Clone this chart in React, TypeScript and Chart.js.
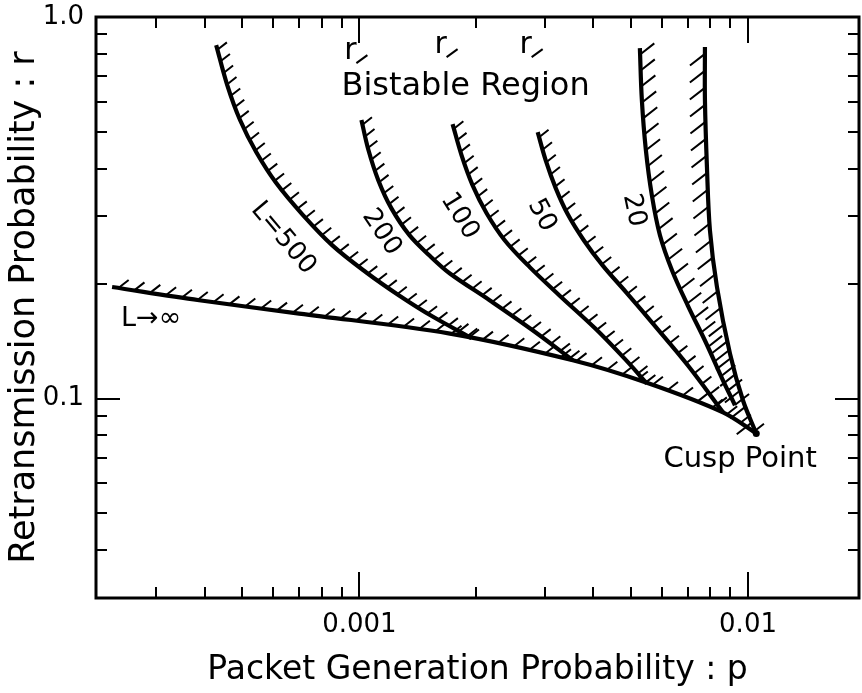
import React, { useEffect, useRef } from 'react';
import { Chart, registerables } from 'chart.js';

Chart.register(...registerables);

// ---------------- data ----------------
// packet generation probability p (x) and retransmission probability r (y)
const P_INF = [0.000231, 0.000387, 0.0007, 0.00171, 0.00354, 0.00549, 0.00862, 0.0105];
const R_INF = [0.196, 0.181, 0.167, 0.148, 0.126, 0.110, 0.092, 0.081];

const P_500 = [0.000428, 0.000457, 0.000493, 0.000543, 0.000611, 0.000713, 0.000852, 0.001042, 0.001268, 0.001543, 0.001944];
const R_500 = [0.844, 0.663, 0.537, 0.442, 0.367, 0.304, 0.252, 0.214, 0.186, 0.164, 0.144];

const P_200 = [0.001012, 0.001055, 0.001119, 0.001209, 0.001345, 0.001515, 0.001706, 0.002163, 0.002792, 0.00354];
const R_200 = [0.537, 0.448, 0.373, 0.315, 0.268, 0.237, 0.213, 0.181, 0.151, 0.126];

const P_100 = [0.001737, 0.001832, 0.001956, 0.002125, 0.002365, 0.002743, 0.003277, 0.004034, 0.00482, 0.005492];
const R_100 = [0.524, 0.434, 0.362, 0.306, 0.260, 0.221, 0.186, 0.153, 0.127, 0.1095];

const P_50 = [0.002876, 0.003016, 0.0032, 0.003437, 0.003779, 0.00423, 0.004877, 0.005758, 0.007005, 0.008623];
const R_50 = [0.499, 0.421, 0.356, 0.304, 0.260, 0.223, 0.189, 0.155, 0.122, 0.092];

const P_20 = [0.005269, 0.005331, 0.005459, 0.005656, 0.005934, 0.006372, 0.007005, 0.007795, 0.008572, 0.009257];
const R_20 = [0.829, 0.606, 0.448, 0.341, 0.268, 0.217, 0.175, 0.140, 0.113, 0.096];

const P_UPPER = [0.007747, 0.007747, 0.00784, 0.00798, 0.008319, 0.008987, 0.009707, 0.0105];
const R_UPPER = [0.834, 0.606, 0.404, 0.276, 0.196, 0.131, 0.0988, 0.081];

const SERIES_NAMES = ['L→∞', 'L=500', '200', '100', '50', '20', 'upper'];
const SERIES_P = [P_INF, P_500, P_200, P_100, P_50, P_20, P_UPPER];
const SERIES_R = [R_INF, R_500, R_200, R_100, R_50, R_20, R_UPPER];

// axis ticks
const X_MIN = 0.00021;
const X_MAX = 0.0193;
const Y_MIN = 0.03;
const Y_MAX = 1.0;
const X_TICKS = [0.0003, 0.0004, 0.0005, 0.0006, 0.0007, 0.0008, 0.0009, 0.001, 0.002, 0.003, 0.004, 0.005, 0.006, 0.007, 0.008, 0.009, 0.01];
const X_MAJOR = [0.001, 0.01];
const X_LABELS = ['0.001', '0.01'];
const Y_TICKS = [0.04, 0.05, 0.06, 0.07, 0.08, 0.09, 0.1, 0.2, 0.3, 0.4, 0.5, 0.6, 0.7, 0.8, 0.9, 1.0];
const Y_MAJOR = [0.1, 1.0];
const Y_LABELS = ['0.1', '1.0'];

// text annotations (anchor in data coordinates)
const NOTE_TEXT = ['L=500', '200', '100', '50', '20', 'L→∞', 'Cusp Point'];
const NOTE_P = [0.000637, 0.001139, 0.00181, 0.002944, 0.005085, 0.000291, 0.00954];
const NOTE_R = [0.263, 0.2727, 0.3004, 0.302, 0.3113, 0.162, 0.0692];
const NOTE_ROT = [50, 56, 58, 62, 78, 0, 0];
const NOTE_SIZE = [26, 26, 26, 26, 26, 27, 29];

const REGION_TEXT = 'Bistable Region';
const REGION_P = 0.000899;
const REGION_R = 0.624;

const R_MARK_P = [0.000948, 0.001618, 0.002678];
const R_MARK_R = [0.814, 0.844, 0.844];

// hatch style per series: side 1 = up-right of curve, -1 = down-left
const HATCH_SIDE = [1, 1, 1, 1, 1, 1, -1];
const HATCH_SPACING = [16, 12, 12, 12, 13, 16, 17];
const HATCH_LEN = [13, 12, 12, 12, 12, 18, 19];

const FONT = '"DejaVu Sans", sans-serif';

const hatchPlugin = {
  id: 'hatchPlugin',
  afterDatasetsDraw(chart: any) {
    const { ctx, chartArea: a } = chart;
    ctx.save();
    ctx.beginPath();
    ctx.rect(a.left, a.top, a.right - a.left, a.bottom - a.top);
    ctx.clip();
    ctx.strokeStyle = '#000';
    ctx.lineWidth = 2;
    const ang = (38 * Math.PI) / 180;
    const dx = Math.cos(ang);
    const dy = -Math.sin(ang);
    SERIES_P.forEach((_, i) => {
      const els = chart.getDatasetMeta(i).data as any[];
      const poly: { x: number; y: number }[] = [];
      for (let k = 0; k < els.length - 1; k++) {
        const p0 = els[k];
        const p1 = els[k + 1];
        const c1x = p0.cp2x ?? p0.x, c1y = p0.cp2y ?? p0.y;
        const c2x = p1.cp1x ?? p1.x, c2y = p1.cp1y ?? p1.y;
        const N = 30;
        for (let s = 0; s < N; s++) {
          const t = s / N, u = 1 - t;
          poly.push({
            x: u * u * u * p0.x + 3 * u * u * t * c1x + 3 * u * t * t * c2x + t * t * t * p1.x,
            y: u * u * u * p0.y + 3 * u * u * t * c1y + 3 * u * t * t * c2y + t * t * t * p1.y,
          });
        }
      }
      const last = els[els.length - 1];
      poly.push({ x: last.x, y: last.y });
      const sp = HATCH_SPACING[i];
      const len = HATCH_LEN[i] * HATCH_SIDE[i];
      let next = sp * 0.4;
      let acc = 0;
      ctx.beginPath();
      for (let k = 0; k < poly.length - 1; k++) {
        const a0 = poly[k], a1 = poly[k + 1];
        const seg = Math.hypot(a1.x - a0.x, a1.y - a0.y);
        while (acc + seg >= next) {
          const f = (next - acc) / seg;
          const px = a0.x + f * (a1.x - a0.x);
          const py = a0.y + f * (a1.y - a0.y);
          ctx.moveTo(px, py);
          ctx.lineTo(px + len * dx, py + len * dy);
          next += sp;
        }
        acc += seg;
      }
      ctx.stroke();
    });
    ctx.restore();
  },
};

const framePlugin = {
  id: 'framePlugin',
  afterDraw(chart: any) {
    const { ctx, chartArea: a, scales } = chart;
    const xs = scales.x, ys = scales.y;
    ctx.save();
    ctx.strokeStyle = '#000';
    ctx.fillStyle = '#000';
    // frame
    ctx.lineWidth = 3;
    ctx.strokeRect(a.left, a.top, a.right - a.left, a.bottom - a.top);
    // ticks, pointing inward on all four sides
    ctx.lineWidth = 2;
    ctx.beginPath();
    X_TICKS.forEach((v) => {
      const px = Math.round(xs.getPixelForValue(v));
      const L = X_MAJOR.includes(v) ? 26 : 11;
      ctx.moveTo(px, a.bottom);
      ctx.lineTo(px, a.bottom - L);
      ctx.moveTo(px, a.top);
      ctx.lineTo(px, a.top + L);
    });
    Y_TICKS.forEach((v) => {
      const py = Math.round(ys.getPixelForValue(v));
      const L = Y_MAJOR.includes(v) ? 24 : 11;
      ctx.moveTo(a.left, py);
      ctx.lineTo(a.left + L, py);
      ctx.moveTo(a.right, py);
      ctx.lineTo(a.right - L, py);
    });
    ctx.stroke();

    // curve labels
    NOTE_TEXT.forEach((t, i) => {
      const px = xs.getPixelForValue(NOTE_P[i]);
      const py = ys.getPixelForValue(NOTE_R[i]);
      ctx.save();
      ctx.translate(px, py);
      ctx.rotate((NOTE_ROT[i] * Math.PI) / 180);
      ctx.font = `${NOTE_SIZE[i]}px ${FONT}`;
      ctx.textAlign = 'center';
      ctx.textBaseline = 'middle';
      ctx.fillText(t, 0, 0);
      ctx.restore();
    });

    // region label
    ctx.font = `32px ${FONT}`;
    ctx.textAlign = 'left';
    ctx.textBaseline = 'alphabetic';
    ctx.fillText(REGION_TEXT, xs.getPixelForValue(REGION_P), ys.getPixelForValue(REGION_R));

    // small "r" marks at the top
    ctx.font = `30px ${FONT}`;
    ctx.textAlign = 'center';
    ctx.textBaseline = 'middle';
    ctx.lineWidth = 2;
    R_MARK_P.forEach((p, i) => {
      const px = xs.getPixelForValue(p);
      const py = ys.getPixelForValue(R_MARK_R[i]);
      ctx.fillText('r', px, py);
      ctx.beginPath();
      ctx.moveTo(px + 6, py + 12);
      ctx.lineTo(px + 17, py + 4);
      ctx.stroke();
    });

    // small filled mark at the cusp
    const cx = xs.getPixelForValue(P_INF[P_INF.length - 1]);
    const cy = ys.getPixelForValue(R_INF[R_INF.length - 1]);
    ctx.beginPath();
    ctx.arc(cx, cy, 3.5, 0, Math.PI * 2);
    ctx.fill();
    ctx.restore();
  },
};

export default function App() {
  const ref = useRef<HTMLCanvasElement | null>(null);

  useEffect(() => {
    if (!ref.current) return;
    const datasets = SERIES_P.map((ps, i) => ({
      label: SERIES_NAMES[i],
      data: ps.map((p, k) => ({ x: p, y: SERIES_R[i][k] })),
      showLine: true,
      borderColor: '#000',
      borderWidth: 4.2,
      pointRadius: 0,
      tension: 0.35,
      fill: false,
    }));
    const chart = new Chart(ref.current, {
      type: 'scatter',
      data: { datasets },
      options: {
        animation: false,
        responsive: false,
        events: [],
        layout: { padding: { top: 17, right: 3, left: 0, bottom: 0 } },
        plugins: { legend: { display: false }, tooltip: { enabled: false } },
        scales: {
          x: {
            type: 'logarithmic',
            min: X_MIN,
            max: X_MAX,
            afterFit: (s: any) => { s.height = 95; s.paddingLeft = 0; s.paddingRight = 0; },
            afterBuildTicks: (s: any) => { s.ticks = X_MAJOR.map((v) => ({ value: v })); },
            grid: { display: false, drawTicks: false },
            border: { display: false },
            ticks: {
              autoSkip: false,
              maxRotation: 0,
              minRotation: 0,
              padding: 12,
              color: '#000',
              font: { family: FONT, size: 26 },
              callback: (_v: any, idx: number) => X_LABELS[idx],
            },
            title: {
              display: true,
              text: 'Packet Generation Probability : p',
              color: '#000',
              font: { family: FONT, size: 33 },
              padding: { top: 0, bottom: 3 },
            },
          },
          y: {
            type: 'logarithmic',
            min: Y_MIN,
            max: Y_MAX,
            afterFit: (s: any) => { s.width = 96; s.paddingTop = 0; s.paddingBottom = 0; },
            afterBuildTicks: (s: any) => { s.ticks = Y_MAJOR.map((v) => ({ value: v })); },
            grid: { display: false, drawTicks: false },
            border: { display: false },
            ticks: {
              autoSkip: false,
              padding: 12,
              color: '#000',
              font: { family: FONT, size: 26 },
              callback: (_v: any, idx: number) => Y_LABELS[idx],
            },
            title: {
              display: true,
              text: 'Retransmission Probability : r',
              color: '#000',
              font: { family: FONT, size: 35 },
              padding: { top: 4, bottom: 0 },
            },
          },
        },
      },
      plugins: [hatchPlugin, framePlugin],
    } as any);
    return () => chart.destroy();
  }, []);

  return (
    <div style={{ position: 'absolute', left: 0, top: 0, width: 862, height: 693, background: '#fff' }}>
      <canvas ref={ref} width={862} height={693} style={{ display: 'block' }} />
    </div>
  );
}
